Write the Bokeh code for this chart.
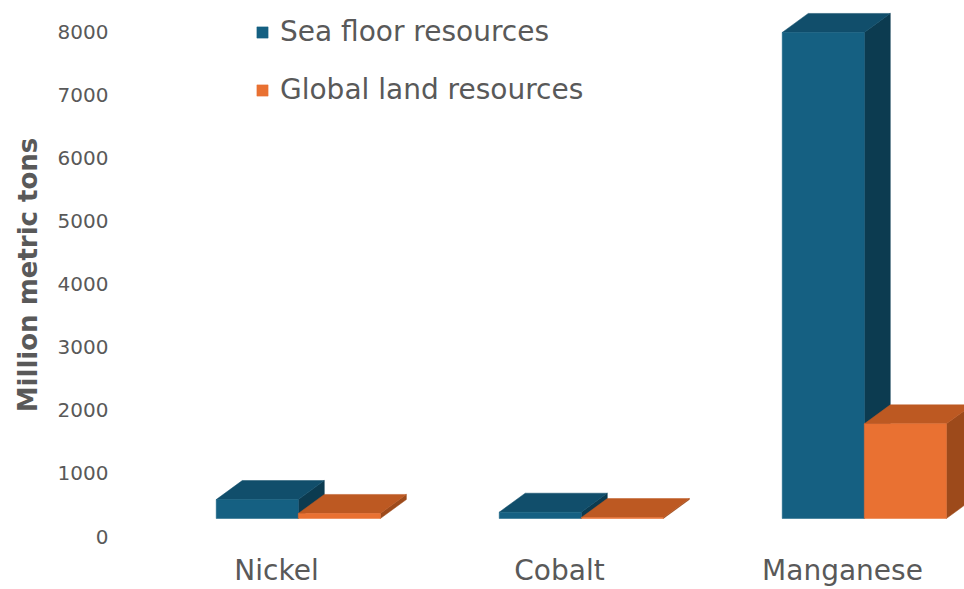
from bokeh.plotting import figure
from bokeh.models import Range1d, LinearAxis, FixedTicker, Legend, LegendItem, ColumnDataSource
from bokeh.embed import file_html
from bokeh.resources import INLINE

# ---- data ----
categories = ["Nickel", "Cobalt", "Manganese"]
series_names = ["Sea floor resources", "Global land resources"]
sea_floor = [300, 100, 7700]
land = [80, 15, 1500]
y_ticks = [0, 1000, 2000, 3000, 4000, 5000, 6000, 7000, 8000]

front_colors = ["#156082", "#E97132"]
top_colors = ["#114E6B", "#BD5922"]
side_colors = ["#0C3B50", "#9D4A1B"]
text_color = "#595959"
FONT = "DejaVu Sans"

W, H = 964, 589
BL, BB = 116, 40                  # left / bottom borders
FT, FB = 0, H - BB                # frame top / bottom
FL, FR = BL, W                    # frame left / right
k = 505 / 8000                    # px per value unit
base_px, axis0_px = 518, 536      # y of bar base and of the 0 tick
xpx, tick0_px = 283, 276          # px per category, x of first category

bar_w = 0.29
shift = 0.077
dx = 26 / xpx
dy = 19 / k

p = figure(width=W, height=H, output_backend="svg", toolbar_location=None,
           x_range=Range1d((FL - tick0_px) / xpx, (FR - tick0_px) / xpx),
           y_range=Range1d(-(FB - base_px) / k, (base_px - FT) / k),
           x_axis_location=None, y_axis_location=None,
           min_border_left=BL, min_border_right=0, min_border_top=0, min_border_bottom=BB)
p.extra_y_ranges = {"ax": Range1d(-(FB - axis0_px) / k, (axis0_px - FT) / k)}
p.grid.visible = False
p.outline_line_color = None
p.background_fill_color = "white"
p.border_fill_color = "white"

yaxis = LinearAxis(y_range_name="ax", ticker=FixedTicker(ticks=y_ticks),
                   axis_label="Million metric tons")
yaxis.axis_line_color = None
yaxis.major_tick_line_color = None
yaxis.minor_tick_line_color = None
yaxis.major_tick_out = 0
yaxis.major_tick_in = 0
yaxis.minor_tick_out = 0
yaxis.major_label_text_font = FONT
yaxis.major_label_text_font_size = "20px"
yaxis.major_label_text_color = text_color
yaxis.major_label_standoff = 8
yaxis.axis_label_text_font = FONT
yaxis.axis_label_text_font_size = "26px"
yaxis.axis_label_text_font_style = "bold"
yaxis.axis_label_text_color = text_color
yaxis.axis_label_standoff = 12
p.add_layout(yaxis, "left")

xticks = list(range(len(categories)))
xaxis = LinearAxis(ticker=FixedTicker(ticks=xticks),
                   major_label_overrides={i: c for i, c in zip(xticks, categories)})
xaxis.axis_line_color = None
xaxis.major_tick_line_color = None
xaxis.minor_tick_line_color = None
xaxis.major_tick_out = 0
xaxis.major_tick_in = 0
xaxis.minor_tick_out = 0
xaxis.major_label_text_font = FONT
xaxis.major_label_text_font_size = "28px"
xaxis.major_label_text_color = text_color
xaxis.major_label_standoff = 4
p.add_layout(xaxis, "below")

legend_items = []
for s, vals in enumerate([sea_floor, land]):
    lefts = [i + shift + (s - 1) * bar_w for i in xticks]
    rights = [l + bar_w for l in lefts]
    side_src = ColumnDataSource(dict(
        xs=[[r, r + dx, r + dx, r] for r in rights],
        ys=[[0, dy, v + dy, v] for v in vals]))
    top_src = ColumnDataSource(dict(
        xs=[[l, r, r + dx, l + dx] for l, r in zip(lefts, rights)],
        ys=[[v, v, v + dy, v + dy] for v in vals]))
    front_src = ColumnDataSource(dict(left=lefts, right=rights,
                                      bottom=[0] * len(vals), top=vals))
    p.patches("xs", "ys", source=side_src, fill_color=side_colors[s], line_color=side_colors[s], line_width=0.5)
    p.patches("xs", "ys", source=top_src, fill_color=top_colors[s], line_color=top_colors[s], line_width=0.5)
    fr = p.quad(left="left", right="right", bottom="bottom", top="top", source=front_src,
                fill_color=front_colors[s], line_color=front_colors[s], line_width=0.5)
    legend_items.append(LegendItem(label=series_names[s], renderers=[fr]))

legend = Legend(items=legend_items, location=(255 - FL, FB - 106))
legend.glyph_width = 14
legend.glyph_height = 14
legend.label_height = 30
legend.label_standoff = 11
legend.spacing = 25
legend.padding = 0
legend.margin = 0
legend.border_line_color = None
legend.background_fill_alpha = 0
legend.label_text_font = FONT
legend.label_text_font_size = "28px"
legend.label_text_color = text_color
p.add_layout(legend)

open("out.html", "w").write(file_html(p, INLINE))
